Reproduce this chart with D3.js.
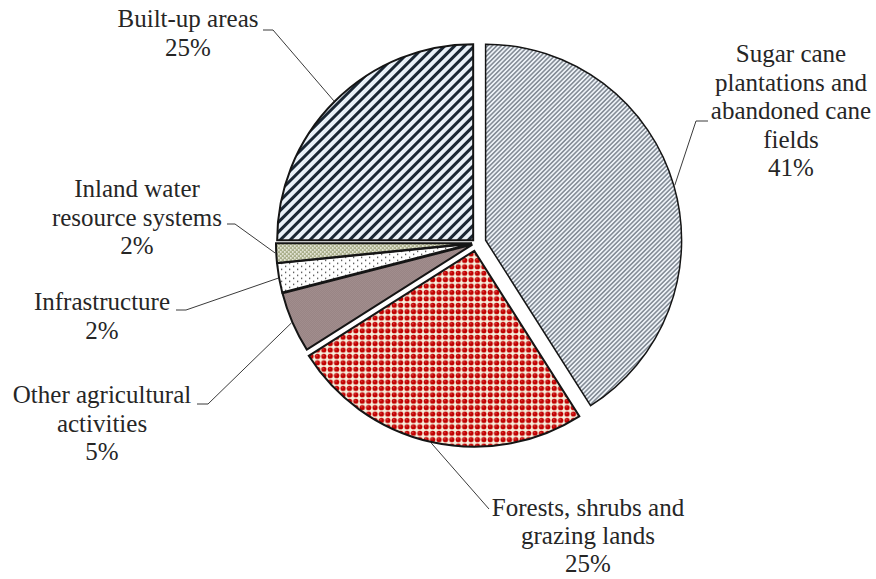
<!DOCTYPE html>
<html>
<head>
<meta charset="utf-8">
<script src="https://cdn.jsdelivr.net/npm/d3@7"></script>
<style>
  body { margin: 0; background: #fff; }
  text { font-family: "Liberation Serif", "Times New Roman", serif; fill: #262626; }
</style>
</head>
<body>
<script>
var width = 876;
var height = 579;

// data, clockwise from 12 o'clock
var categories = ["Sugar cane plantations and abandoned cane fields", "Forests, shrubs and grazing lands",
    "Other agricultural activities", "Infrastructure", "Inland water resource systems", "Built-up areas"];
var shares = [41, 25, 5, 2.4, 1.6, 25];
var labelLines = [
    ["Sugar cane", "plantations and", "abandoned cane", "fields"],
    ["Forests, shrubs and", "grazing lands"],
    ["Other agricultural", "activities"],
    ["Infrastructure"],
    ["Inland water", "resource systems"],
    ["Built-up areas"]
];

// layout
var cx = 476, cy = 243, radius = 196;
var explode = [10, 8, 4, 4, 4, 4];
var fills = ["url(#sugar)", "url(#forest)", "url(#agri)", "url(#infra)", "url(#water)", "url(#built)"];
// label text centre, first baseline, leader elbow and end
var labelPos = [
    {x: 791, y: 62, step: 28.6, elbow: [696, 121], end: [708, 121]},
    {x: 588, y: 516, step: 28, elbow: [489, 509], end: [489, 509]},
    {x: 102, y: 403, step: 28.6, elbow: [208, 404], end: [197, 404]},
    {x: 102, y: 310, step: 28.6, elbow: [186, 310], end: [176, 310]},
    {x: 137, y: 197, step: 28.6, elbow: [235, 224], end: [227, 224]},
    {x: 188, y: 27, step: 28.6, elbow: [273, 30], end: [263, 30]}
];

var svg = d3.select("body")
    .append("svg")
    .attr("width", width)
    .attr("height", height);

var defs = svg.append("defs");

function hatch(id, size, lw, color, bg) {
    var p = defs.append("pattern")
        .attr("id", id)
        .attr("patternUnits", "userSpaceOnUse")
        .attr("width", size)
        .attr("height", size)
        .attr("patternTransform", "rotate(45)");
    p.append("rect").attr("width", size).attr("height", size).attr("fill", bg);
    p.append("line")
        .attr("x1", size / 2).attr("y1", -1)
        .attr("x2", size / 2).attr("y2", size + 1)
        .attr("stroke", color)
        .attr("stroke-width", lw);
}

hatch("sugar", 3.2, 1.1, "#56606c", "#eef3f8");
hatch("built", 7, 3, "#1a2633", "#eaf1f8");

var forest = defs.append("pattern")
    .attr("id", "forest").attr("patternUnits", "userSpaceOnUse")
    .attr("width", 6.4).attr("height", 6.4);
forest.append("rect").attr("width", 6.4).attr("height", 6.4).attr("fill", "#f6efdc");
forest.append("circle").attr("cx", 3.2).attr("cy", 3.2).attr("r", 2.6).attr("fill", "#c00000");
forest.append("circle").attr("cx", 2.6).attr("cy", 2.5).attr("r", 0.8).attr("fill", "#e04040");

var agri = defs.append("pattern")
    .attr("id", "agri").attr("patternUnits", "userSpaceOnUse")
    .attr("width", 2).attr("height", 2);
agri.append("rect").attr("width", 2).attr("height", 2).attr("fill", "#dccaca");
agri.append("rect").attr("width", 1).attr("height", 1).attr("fill", "#5e4848");
agri.append("rect").attr("x", 1).attr("y", 1).attr("width", 1).attr("height", 1).attr("fill", "#5e4848");

var water = defs.append("pattern")
    .attr("id", "water").attr("patternUnits", "userSpaceOnUse")
    .attr("width", 4).attr("height", 4);
water.append("rect").attr("width", 4).attr("height", 4).attr("fill", "#a9ae8a");
water.append("rect").attr("width", 1.6).attr("height", 1.6).attr("fill", "#f4f4ec");
water.append("rect").attr("x", 2).attr("y", 2).attr("width", 1.6).attr("height", 1.6).attr("fill", "#f4f4ec");

var infra = defs.append("pattern")
    .attr("id", "infra").attr("patternUnits", "userSpaceOnUse")
    .attr("width", 8).attr("height", 6);
infra.append("rect").attr("width", 8).attr("height", 6).attr("fill", "#ffffff");
infra.append("rect").attr("x", 1).attr("y", 1).attr("width", 1.2).attr("height", 1.2).attr("fill", "#222");
infra.append("rect").attr("x", 5).attr("y", 4).attr("width", 1.2).attr("height", 1.2).attr("fill", "#222");

var pie = d3.pie().sort(null).value(function(d) { return d; });
var arcs = pie(shares);

var arc = d3.arc().innerRadius(0).outerRadius(radius);

function offset(d, r) {
    var a = (d.startAngle + d.endAngle) / 2;
    return [Math.sin(a) * r, -Math.cos(a) * r];
}

var g = svg.append("g").attr("transform", "translate(" + cx + "," + cy + ")");

g.selectAll("path.slice")
    .data(arcs)
    .join("path")
    .attr("class", "slice")
    .attr("d", arc)
    .attr("transform", function(d, i) {
        var o = offset(d, explode[i]);
        return "translate(" + o[0] + "," + o[1] + ")";
    })
    .attr("fill", function(d, i) { return fills[i]; })
    .attr("stroke", "#151515")
    .attr("stroke-width", function(d, i) { return i == 0 ? 1.5 : 2; })
    .attr("stroke-linejoin", "miter");

// leader lines from the middle of each arc, then the labels
arcs.forEach(function(d, i) {
    var o = offset(d, explode[i]);
    var a = (d.startAngle + d.endAngle) / 2;
    var start = [cx + o[0] + Math.sin(a) * (radius + 1), cy + o[1] - Math.cos(a) * (radius + 1)];
    var lp = labelPos[i];
    svg.append("polyline")
        .attr("points", [start, lp.elbow, lp.end].map(function(p) { return p.join(","); }).join(" "))
        .attr("fill", "none")
        .attr("stroke", "#3a3a3a")
        .attr("stroke-width", 1);

    var lines = labelLines[i].concat([Math.round(shares[i]) + "%"]);
    var t = svg.append("text")
        .attr("text-anchor", "middle")
        .attr("font-size", "25px");
    lines.forEach(function(s, k) {
        t.append("tspan")
            .attr("x", lp.x)
            .attr("y", lp.y + k * lp.step)
            .text(s);
    });
});
</script>
</body>
</html>
